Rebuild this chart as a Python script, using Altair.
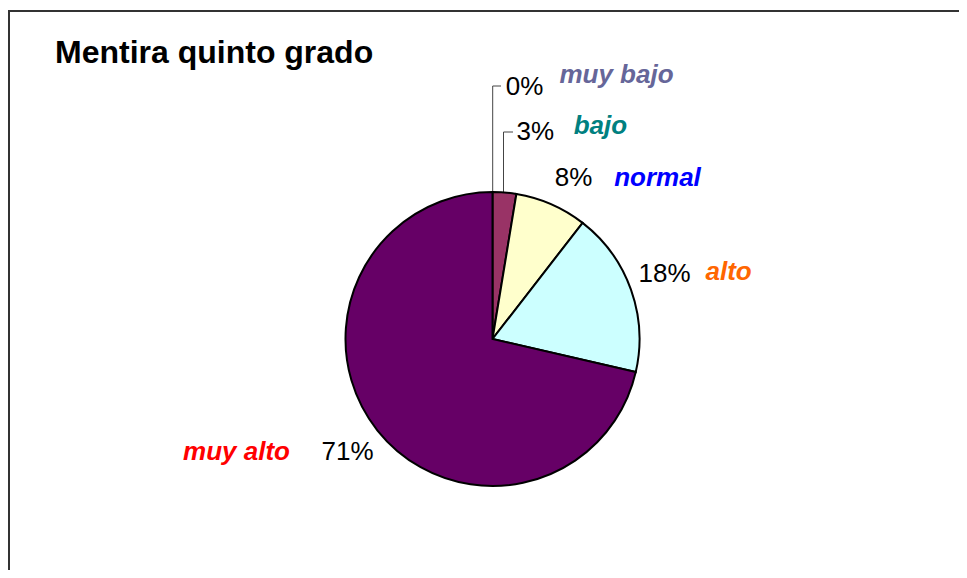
import altair as alt
import pandas as pd

# ---- data ----
categories = ["muy bajo", "bajo", "normal", "alto", "muy alto"]
values = [0, 2.6, 7.9, 18.1, 71.4]           # share of the pie (%)
pct_labels = ["0%", "3%", "8%", "18%", "71%"]
slice_colors = ["#9999FF", "#993366", "#FFFFCC", "#CCFFFF", "#660066"]
name_colors = ["#666699", "#008080", "#0000FF", "#FF6600", "#FF0000"]
title_text = "Mentira quinto grado"

df = pd.DataFrame({
    "cat": categories,
    "value": values,
    "idx": list(range(len(categories))),
    "pct": pct_labels,
})

W, H = 951, 562
CX, CY = 484.5, 331
R = 147
FONT = "Liberation Sans"

pie = alt.Chart(df).mark_arc(outerRadius=R, stroke="black", strokeWidth=2).encode(
    theta=alt.Theta("value:Q", stack=True, scale=alt.Scale(domain=[0, 100])),
    color=alt.Color("cat:N", scale=alt.Scale(domain=categories, range=slice_colors), legend=None),
    order=alt.Order("idx:Q"),
    x=alt.value(CX),
    y=alt.value(CY),
)

# label offsets (layout only)
pct_off = {"muy bajo": (32, -82), "bajo": (29, -38), "normal": (13, -5),
           "alto": (12, -8), "muy alto": (-12, 7)}
name_off = {"muy bajo": (124, -94), "bajo": (94, -44), "normal": (97, -5),
            "alto": (76, -10), "muy alto": (-123, 7)}

base = alt.Chart(df).transform_window(
    cum="sum(value)", sort=[alt.SortField("idx")]
).transform_calculate(mid="datum.cum - datum.value / 2")

layers = [pie]
for c, col in zip(categories, name_colors):
    sub = base.transform_filter(alt.datum.cat == c)
    th = alt.Theta("mid:Q", stack=None, scale=alt.Scale(domain=[0, 100]))
    dx, dy = pct_off[c]
    layers.append(sub.mark_text(radius=170, dx=dx, dy=dy, font=FONT, fontSize=26,
                                color="black", align="center", baseline="middle").encode(
        theta=th, text="pct:N", x=alt.value(CX), y=alt.value(CY)))
    dx, dy = name_off[c]
    layers.append(sub.mark_text(radius=170, dx=dx, dy=dy, font=FONT, fontSize=26,
                                fontWeight="bold", fontStyle="italic", color=col,
                                align="center", baseline="middle").encode(
        theta=th, text="cat:N", x=alt.value(CX), y=alt.value(CY)))

one = alt.Chart(pd.DataFrame({"a": [0]}))
lead = "#444444"
leaders = [
    one.mark_rule(color=lead, strokeWidth=1).encode(x=alt.value(484.7), y=alt.value(184), y2=alt.value(78)),
    one.mark_rule(color=lead, strokeWidth=1).encode(x=alt.value(484.7), x2=alt.value(493), y=alt.value(78)),
    one.mark_rule(color=lead, strokeWidth=1).encode(x=alt.value(495.5), y=alt.value(185), y2=alt.value(124)),
    one.mark_rule(color=lead, strokeWidth=1).encode(x=alt.value(495.5), x2=alt.value(505), y=alt.value(124)),
]
border = [
    one.mark_rule(color="#333333", strokeWidth=2).encode(x=alt.value(1), x2=alt.value(W), y=alt.value(3)),
    one.mark_rule(color="#333333", strokeWidth=2).encode(x=alt.value(1), y=alt.value(2), y2=alt.value(H)),
]
title = one.mark_text(text=title_text, font=FONT, fontSize=32, fontWeight="bold",
                      align="left", baseline="alphabetic", color="black").encode(
    x=alt.value(47), y=alt.value(55))

chart = alt.layer(*border, *leaders, *layers, title).resolve_scale(
    theta="independent", color="independent"
).properties(
    width=W, height=H, padding=0, autosize=alt.AutoSizeParams(type="none"),
    background="white",
).configure_view(stroke=None)

chart.save("out.html", embed_options={"renderer": "svg", "actions": False})
